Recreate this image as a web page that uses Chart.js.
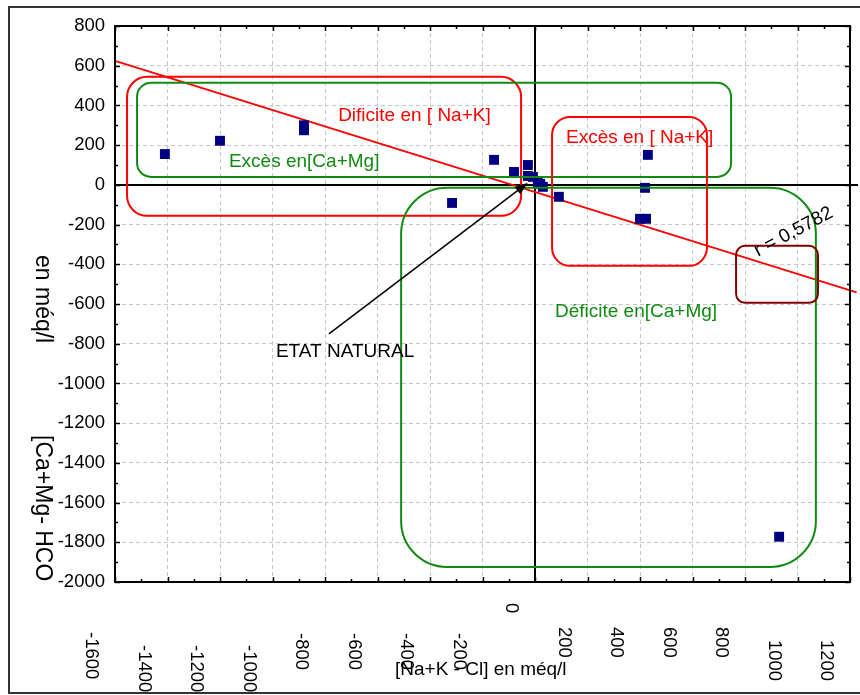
<!DOCTYPE html>
<html>
<head>
<meta charset="utf-8">
<script src="https://cdn.jsdelivr.net/npm/chart.js@4.4.0/dist/chart.umd.min.js"></script>
<style>
    html, body { margin: 0; padding: 0; background: #fff; }
    #grafico { display: block; }
</style>
</head>
<body>
<canvas id="grafico" width="860" height="695"></canvas>
<script>
// Pontos observados (méq/l)
const pontosX = [-1410, -1200, -880, -880, -316, -156, -80, -27, -27, -8, 11, 30, 20, 91, 430, 419, 400, 423, 930];
const pontosY = [155, 222, 300, 275, -91, 126, 65, 100, 45, 40, 10, -10, 5, -60, 151, -15, -171, -171, -1772];

// Reta de regressão
const retaX = [-1600, 1225];
const retaY = [624, -541];

// Eixos
const ticksX = [-1600, -1400, -1200, -1000, -800, -600, -400, -200, 0, 200, 400, 600, 800, 1000, 1200];
const ticksY = [800, 600, 400, 200, 0, -200, -400, -600, -800, -1000, -1200, -1400, -1600, -1800, -2000];

const tituloX = '[Na+K - Cl] en méq/l';
const tituloY = ['[Ca+Mg- HCO', 'en méq/l'];
const coeficiente = 'r = 0,5782';

const FONTE = '"Liberation Sans", Arial, sans-serif';

// Zonas desenhadas sobre o gráfico (coordenadas em méq/l)
const zonas = [
    { x0: -1554, x1: -53, y0: 544, y1: -156, raio: 20, cor: '#ff0000' },
    { x0: -1516, x1: 747, y0: 514, y1: 40, raio: 14, cor: '#118a11' },
    { x0: 65, x1: 655, y0: 342, y1: -408, raio: 18, cor: '#ff0000' },
    { x0: -510, x1: 1070, y0: -15, y1: -1924, raio: 46, cor: '#118a11' },
    { x0: 766, x1: 1078, y0: -307, y1: -594, raio: 9, cor: '#800000' }
];

const textos = [
    { t: 'Dificite en [ Na+K]', x: -750, y: 347, cor: '#ff0000' },
    { t: 'Excès en[Ca+Mg]', x: -1166, y: 116, cor: '#118a11' },
    { t: 'Excès en [ Na+K]', x: 118, y: 237, cor: '#ff0000' },
    { t: 'Déficite en[Ca+Mg]', x: 76, y: -640, cor: '#118a11' },
    { t: 'ETAT NATURAL', x: -987, y: -841, cor: '#000' }
];

// Seta "ETAT NATURAL" -> origem
const seta = { x0: -785, y0: -750, x1: -27, y1: 10 };

// Deslocamento vertical dos rótulos do eixo X (topo do texto, px)
const topoRotuloX = { '-1600': 632, '-1400': 645, '-1200': 645, '-1000': 645, '-800': 633, '-600': 633, '-400': 633, '-200': 633, '0': 603, '200': 627, '400': 627, '600': 627, '800': 627, '1000': 640, '1200': 640 };

function caixaArredondada(ctx, x0, y0, x1, y1, r) {
    ctx.beginPath();
    ctx.moveTo(x0 + r, y0);
    ctx.lineTo(x1 - r, y0);
    ctx.arcTo(x1, y0, x1, y0 + r, r);
    ctx.lineTo(x1, y1 - r);
    ctx.arcTo(x1, y1, x1 - r, y1, r);
    ctx.lineTo(x0 + r, y1);
    ctx.arcTo(x0, y1, x0, y1 - r, r);
    ctx.lineTo(x0, y0 + r);
    ctx.arcTo(x0, y0, x0 + r, y0, r);
    ctx.closePath();
    ctx.stroke();
}

const desenhos = {
    id: 'desenhos',
    beforeDatasetsDraw(chart) {
        const { ctx, chartArea: a, scales: { x, y } } = chart;
        ctx.save();
        ctx.strokeStyle = '#000';
        ctx.lineWidth = 2;
        const y0 = Math.round(y.getPixelForValue(0));
        const x0 = Math.round(x.getPixelForValue(0));
        ctx.beginPath();
        ctx.moveTo(a.left, y0);
        ctx.lineTo(a.right + 8, y0);
        ctx.moveTo(x0, a.top);
        ctx.lineTo(x0, a.bottom);
        ctx.stroke();
        ctx.restore();
    },
    afterDatasetsDraw(chart) {
        const { ctx, chartArea: a, scales: { x, y } } = chart;
        ctx.save();

        // zonas
        ctx.lineWidth = 2;
        zonas.forEach(z => {
            ctx.strokeStyle = z.cor;
            caixaArredondada(ctx, x.getPixelForValue(z.x0), y.getPixelForValue(z.y0),
                x.getPixelForValue(z.x1), y.getPixelForValue(z.y1), z.raio);
        });

        // textos das zonas
        ctx.font = '19px ' + FONTE;
        ctx.textAlign = 'left';
        ctx.textBaseline = 'middle';
        textos.forEach(t => {
            ctx.fillStyle = t.cor;
            ctx.fillText(t.t, x.getPixelForValue(t.x), y.getPixelForValue(t.y));
        });

        // coeficiente de correlação
        ctx.save();
        ctx.translate(x.getPixelForValue(985), y.getPixelForValue(-237));
        ctx.rotate(-28 * Math.PI / 180);
        ctx.textAlign = 'center';
        ctx.fillStyle = '#000';
        ctx.fillText(coeficiente, 0, 0);
        ctx.restore();

        // seta
        const sx = x.getPixelForValue(seta.x0), sy = y.getPixelForValue(seta.y0);
        const ex = x.getPixelForValue(seta.x1), ey = y.getPixelForValue(seta.y1);
        const ang = Math.atan2(ey - sy, ex - sx);
        ctx.strokeStyle = '#000';
        ctx.fillStyle = '#000';
        ctx.lineWidth = 1.5;
        ctx.beginPath();
        ctx.moveTo(sx, sy);
        ctx.lineTo(ex - 8 * Math.cos(ang), ey - 8 * Math.sin(ang));
        ctx.stroke();
        ctx.beginPath();
        ctx.moveTo(ex, ey);
        ctx.lineTo(ex - 13 * Math.cos(ang) + 4.5 * Math.sin(ang), ey - 13 * Math.sin(ang) - 4.5 * Math.cos(ang));
        ctx.lineTo(ex - 13 * Math.cos(ang) - 4.5 * Math.sin(ang), ey - 13 * Math.sin(ang) + 4.5 * Math.cos(ang));
        ctx.closePath();
        ctx.fill();

        // moldura da área do gráfico e marcas
        ctx.strokeStyle = '#000';
        ctx.lineWidth = 2;
        ctx.strokeRect(a.left, a.top, a.right - a.left, a.bottom - a.top);
        ctx.lineWidth = 1.5;
        ctx.beginPath();
        for (let v = -1600; v <= 1200; v += 100) {
            const px = Math.round(x.getPixelForValue(v)) + 0.5;
            const len = v % 200 === 0 ? 5 : 3;
            ctx.moveTo(px, a.bottom); ctx.lineTo(px, a.bottom - len);
            ctx.moveTo(px, a.top); ctx.lineTo(px, a.top + len);
        }
        for (let v = -2000; v <= 800; v += 100) {
            const py = Math.round(y.getPixelForValue(v)) + 0.5;
            const len = v % 200 === 0 ? 5 : 3;
            ctx.moveTo(a.left, py); ctx.lineTo(a.left + len, py);
            ctx.moveTo(a.right, py); ctx.lineTo(a.right - len, py);
        }
        ctx.stroke();
        ctx.restore();
    },
    afterDraw(chart) {
        const { ctx, scales: { x } } = chart;
        ctx.save();
        ctx.fillStyle = '#000';
        ctx.font = '18.5px ' + FONTE;
        ctx.textAlign = 'left';
        ctx.textBaseline = 'middle';

        // rótulos do eixo X, girados
        ticksX.forEach(v => {
            ctx.save();
            ctx.translate(x.getPixelForValue(v) - 23.5, topoRotuloX[String(v)]);
            ctx.rotate(Math.PI / 2);
            ctx.fillText(String(v), 0, 0);
            ctx.restore();
        });

        // títulos
        ctx.font = '19px ' + FONTE;
        ctx.fillText(tituloX, 395, 670);
        ctx.font = '23px ' + FONTE;
        [[tituloY[0], 435], [tituloY[1], 255]].forEach(([t, topo]) => {
            ctx.save();
            ctx.translate(42, topo);
            ctx.rotate(Math.PI / 2);
            ctx.fillText(t, 0, 0);
            ctx.restore();
        });

        // moldura externa
        ctx.strokeStyle = '#333';
        ctx.lineWidth = 2;
        ctx.beginPath();
        ctx.moveTo(862, 7);
        ctx.lineTo(9, 7);
        ctx.lineTo(9, 693);
        ctx.lineTo(862, 693);
        ctx.stroke();
        ctx.restore();
    }
};

const grafico = new Chart(document.getElementById('grafico'), {
    type: 'scatter',
    data: {
        datasets: [
            {
                label: 'Amostras',
                data: pontosX.map((v, i) => ({ x: v, y: pontosY[i] })),
                backgroundColor: '#000080',
                borderWidth: 0,
                pointStyle: 'rect',
                pointRadius: 7
            },
            {
                label: 'Regressão',
                data: retaX.map((v, i) => ({ x: v, y: retaY[i] })),
                showLine: true,
                borderColor: '#ff0000',
                borderWidth: 1.8,
                pointRadius: 0,
                clip: false
            }
        ]
    },
    options: {
        responsive: false,
        animation: false,
        devicePixelRatio: 1,
        layout: { padding: { top: 26, right: 10, left: 0, bottom: 0 } },
        plugins: { legend: { display: false }, tooltip: { enabled: false } },
        scales: {
            x: {
                type: 'linear',
                min: -1600,
                max: 1200,
                afterBuildTicks: s => { s.ticks = ticksX.map(v => ({ value: v })); },
                afterFit: s => { s.height = 113; },
                ticks: { display: false },
                grid: { color: '#c8c8c8', lineWidth: 1, drawTicks: false },
                border: { display: false, dash: [4, 3] }
            },
            y: {
                type: 'linear',
                min: -2000,
                max: 800,
                afterBuildTicks: s => { s.ticks = ticksY.map(v => ({ value: v })); },
                afterFit: s => { s.width = 115; },
                ticks: {
                    color: '#000',
                    padding: 10,
                    font: { family: FONTE, size: 18.5 },
                    callback: v => String(v)
                },
                grid: { color: '#c8c8c8', lineWidth: 1, drawTicks: false },
                border: { display: false, dash: [4, 3] }
            }
        }
    },
    plugins: [desenhos]
});
</script>
</body>
</html>
